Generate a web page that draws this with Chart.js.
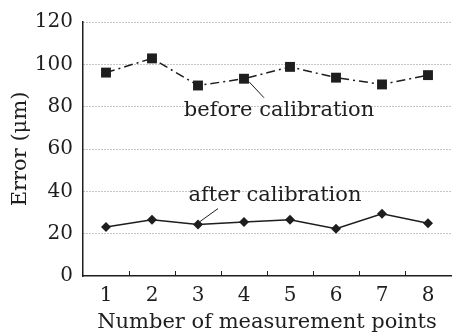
<!DOCTYPE html>
<html>
<head>
<meta charset="utf-8">
<script src="https://cdn.jsdelivr.net/npm/chart.js@4.4.0/dist/chart.umd.min.js"></script>
<style>
  body { margin: 0; background: #fff; }
  #wrap { width: 458px; height: 335px; }
</style>
</head>
<body>
<div id="wrap"><canvas id="myChart"></canvas></div>
<script>
let points = ['1', '2', '3', '4', '5', '6', '7', '8'];
let beforeArr = [96.1, 102.8, 90.0, 93.2, 98.8, 93.7, 90.5, 94.9];
let afterArr = [23.1, 26.6, 24.3, 25.5, 26.6, 22.3, 29.4, 24.9];
let yTicks = [0, 20, 40, 60, 80, 100, 120];

const serif = "'DejaVu Serif', 'Liberation Serif', serif";
const ink = '#1e1e1e';

// labels + leader lines, small inner ticks on the x axis
const extras = {
  id: 'extras',
  afterDraw(chart) {
    let ctx = chart.ctx;
    let x = chart.scales.x;
    let y = chart.scales.y;
    ctx.save();
    ctx.strokeStyle = ink;
    ctx.lineWidth = 1;
    // inner ticks
    for (let i = 0; i < points.length - 1; i++) {
      let px = Math.round((x.getPixelForValue(i) + x.getPixelForValue(i + 1)) / 2) + 0.5;
      ctx.beginPath();
      ctx.moveTo(px, y.bottom);
      ctx.lineTo(px, y.bottom - 5);
      ctx.stroke();
    }
    // leader lines
    let bx = x.getPixelForValue(3), by = y.getPixelForValue(beforeArr[3]);
    ctx.beginPath();
    ctx.moveTo(bx + 5, by + 3);
    ctx.lineTo(bx + 20, by + 19);
    ctx.stroke();
    let ax = x.getPixelForValue(2), ay = y.getPixelForValue(afterArr[2]);
    ctx.beginPath();
    ctx.moveTo(ax + 2, ay - 3);
    ctx.lineTo(ax + 20, ay - 16);
    ctx.stroke();
    // text
    ctx.fillStyle = ink;
    ctx.font = '21px ' + serif;
    ctx.textAlign = 'center';
    ctx.textBaseline = 'middle';
    ctx.fillText('before calibration', 279, y.getPixelForValue(78.3));
    ctx.fillText('after calibration', 275, y.getPixelForValue(38));
    ctx.restore();
  }
};

const data = {
  labels: points,
  datasets: [{
    label: 'before calibration',
    data: beforeArr,
    borderColor: ink,
    backgroundColor: ink,
    borderWidth: 1.5,
    borderDash: [9, 4, 2, 4],
    pointStyle: 'rect',
    pointRadius: 7,
    pointBorderWidth: 0,
    tension: 0
  },
  {
    label: 'after calibration',
    data: afterArr,
    borderColor: ink,
    backgroundColor: ink,
    borderWidth: 1.5,
    pointStyle: 'rectRot',
    pointRadius: 5,
    pointBorderWidth: 0,
    tension: 0
  }]
};

const config = {
  type: 'line',
  data: data,
  options: {
    responsive: true,
    maintainAspectRatio: false,
    animation: false,
    layout: { padding: { top: 16, right: 1, left: 0, bottom: 0 } },
    plugins: {
      legend: { display: false },
      tooltip: { enabled: false }
    },
    scales: {
      x: {
        offset: true,
        grid: { display: false },
        border: { display: true, color: ink, width: 1.5 },
        ticks: { color: ink, font: { family: serif, size: 20 }, padding: 0 },
        title: {
          display: true,
          text: 'Number of measurement points',
          color: ink,
          font: { family: serif, size: 21 },
          padding: { top: 0, bottom: 0 }
        },
        afterFit(scale) { scale.height = 59; }
      },
      y: {
        min: 0,
        max: 120,
        afterBuildTicks(scale) { scale.ticks = yTicks.map(v => ({ value: v })); },
        grid: {
          color: ctx => (ctx.tick && ctx.tick.value === 0) ? 'rgba(0,0,0,0)' : '#8a8a8a',
          lineWidth: 1,
          drawTicks: false
        },
        border: { display: true, color: ink, width: 1.5, dash: [1, 2] },
        ticks: { color: ink, font: { family: serif, size: 20 }, padding: 10 },
        title: {
          display: true,
          text: 'Error (μm)',
          color: ink,
          font: { family: serif, size: 21 },
          padding: { top: 8, bottom: 0 }
        },
        afterFit(scale) { scale.width = 83; }
      }
    }
  },
  plugins: [extras]
};

var myChart = new Chart(document.getElementById('myChart'), config);
</script>
</body>
</html>
